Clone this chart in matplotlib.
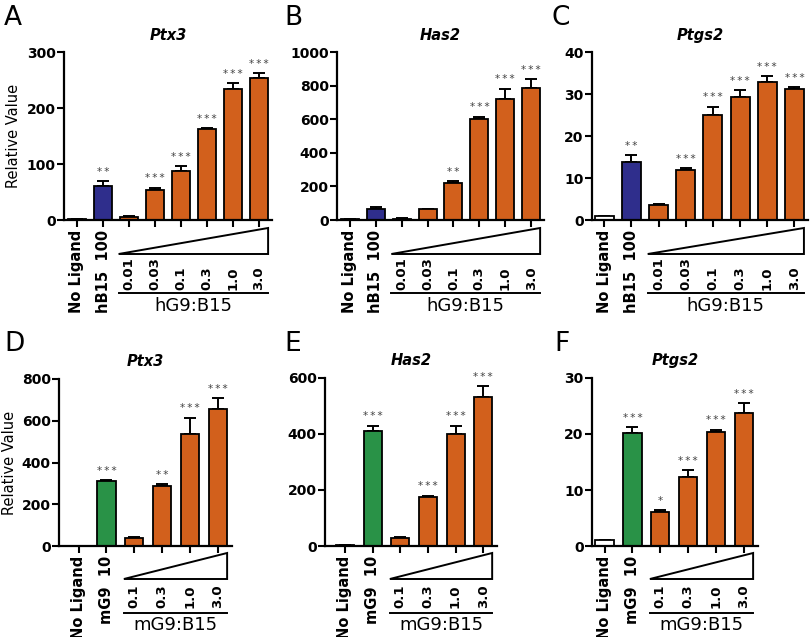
import numpy as np
import matplotlib
matplotlib.use("Agg")
import matplotlib.pyplot as plt
import matplotlib.transforms as mtrans

plt.rcParams['font.family'] = ['DejaVu Sans']

# data
top_doses = ['0.01', '0.03', '0.1', '0.3', '1.0', '3.0']
bottom_doses = ['0.1', '0.3', '1.0', '3.0']

a_vals = [1, 60, 6, 54, 88, 162, 234, 253]
a_err = [0, 9, 1, 4, 9, 2, 10, 10]
a_stars = ['', '**', '', '***', '***', '***', '***', '***']

b_vals = [3, 64, 8, 64, 220, 600, 718, 784]
b_err = [0, 12, 1, 4, 14, 16, 64, 54]
b_stars = ['', '', '', '', '**', '***', '***', '***']

c_vals = [1.0, 13.7, 3.5, 11.8, 25.0, 29.4, 32.9, 31.2]
c_err = [0, 1.8, 0.2, 0.5, 2.0, 1.6, 1.3, 0.4]
c_stars = ['', '**', '', '***', '***', '***', '***', '***']

d_vals = [2, 310, 40, 289, 535, 655]
d_err = [0, 6, 4, 8, 80, 53]
d_stars = ['', '***', '', '**', '***', '***']

e_vals = [3, 412, 30, 174, 400, 533]
e_err = [0, 18, 2, 6, 30, 37]
e_stars = ['', '***', '', '***', '***', '***']

f_vals = [1.0, 20.2, 6.1, 12.4, 20.3, 23.8]
f_err = [0, 1.0, 0.25, 1.2, 0.5, 1.7]
f_stars = ['', '***', '*', '***', '***', '***']

NAVY = '#2f2e8c'
GREEN = '#299247'
ORANGE = '#d2601c'

W, H = 812, 637
fig = plt.figure(figsize=(W / 100, H / 100), dpi=100)


def add_panel(letter, letter_xy, gene, vals, err, stars, ymax, yticks, ctrl, ctrl_color,
              doses, group, box, xlim, bw, offs, ylabel=False, lab_x=-0.2):
    left, top, right, bottom = box
    ax = fig.add_axes([left / W, 1 - bottom / H, (right - left) / W, (bottom - top) / H])
    n = len(vals)
    x = np.arange(n)
    colors = ['white', ctrl_color] + [ORANGE] * (n - 2)
    ax.bar(x, vals, width=bw, color=colors, edgecolor='black', linewidth=1.3, zorder=2)
    ax.errorbar(x, vals, yerr=[np.zeros(n), err], fmt='none', ecolor='black',
                elinewidth=1.4, capsize=4, capthick=1.4, zorder=1)
    for i in range(n):
        if stars[i]:
            ax.annotate('\u2009'.join(stars[i]), (x[i], vals[i] + err[i]), xytext=(0, 3),
                        textcoords='offset points', ha='center', va='bottom',
                        fontsize=7.5, color='#444444')
    ax.set_xlim(*xlim)
    ax.set_ylim(0, ymax)
    ax.set_yticks(yticks)
    ax.set_yticklabels([str(t) for t in yticks], fontweight='bold', fontsize=10)
    ax.set_xticks(x)
    ax.set_xticklabels(['No Ligand', ctrl] + [''] * (n - 2), rotation=90,
                       fontweight='bold', fontsize=10.5)
    for s in ['top', 'right']:
        ax.spines[s].set_visible(False)
    for s in ['left', 'bottom']:
        ax.spines[s].set_linewidth(1.6)
    ax.tick_params(width=1.5, length=5, pad=2)
    ax.tick_params(axis='y', pad=1)
    ax.set_title(gene, fontstyle='italic', fontweight='bold', fontsize=10.5, pad=9)
    if ylabel:
        ax.set_ylabel('Relative Value', fontsize=10.5)
        ax.yaxis.set_label_coords(lab_x, 0.5)

    # triangle, dose numbers and group line below the axis (offsets in pixels)
    tri_top, tri_bot, num_bot, line_y, lab_top = offs

    def tr(dy):
        return mtrans.blended_transform_factory(ax.transData, ax.transAxes) + \
            mtrans.ScaledTranslation(0, -dy / 100, fig.dpi_scale_trans)

    x0, x1 = 2 - bw / 2 - 0.05, n - 1 + bw / 2
    p0 = tr(tri_bot).transform((x0, 0))
    p1 = tr(tri_bot).transform((x1, 0))
    p2 = tr(tri_top).transform((x1, 0))
    tri = plt.Polygon([[p0[0] / W, p0[1] / H], [p1[0] / W, p1[1] / H], [p2[0] / W, p2[1] / H]],
                      closed=True, fill=False, edgecolor='black', lw=1.4,
                      transform=fig.transFigure, joinstyle='miter')
    fig.add_artist(tri)
    for i, d in enumerate(doses):
        ax.text(i + 2, 0, d, transform=tr(num_bot), rotation=90, ha='center', va='bottom',
                fontweight='bold', fontsize=9.5)
    ax.plot([x0, x1], [0, 0], transform=tr(line_y), color='black', lw=1.4, clip_on=False)
    ax.text((x0 + x1) / 2, 0, group, transform=tr(lab_top), ha='center', va='top',
            fontsize=13)

    fig.text(letter_xy[0] / W, 1 - letter_xy[1] / H, letter, fontsize=19, va='top', ha='left')
    return ax


top_offs = (8, 34, 70, 73, 77)
bot_offs = (7, 33, 62, 67, 70)

add_panel('A', (4, 5), 'Ptx3', a_vals, a_err, a_stars, 300, [0, 100, 200, 300], 'hB15  100',
          NAVY, top_doses, 'hG9:B15', (64, 52, 272, 220), (-0.5, 7.5), 0.7, top_offs,
          ylabel=True, lab_x=-0.205)
add_panel('B', (284, 5), 'Has2', b_vals, b_err, b_stars, 1000, [0, 200, 400, 600, 800, 1000],
          'hB15  100', NAVY, top_doses, 'hG9:B15', (337, 52, 544, 220), (-0.5, 7.5), 0.7,
          top_offs)
add_panel('C', (552, 5), 'Ptgs2', c_vals, c_err, c_stars, 40, [0, 10, 20, 30, 40], 'hB15  100',
          NAVY, top_doses, 'hG9:B15', (592, 52, 808, 220), (-0.45, 7.5), 0.7, top_offs)
add_panel('D', (4, 331), 'Ptx3', d_vals, d_err, d_stars, 800, [0, 200, 400, 600, 800], 'mG9  10',
          GREEN, bottom_doses, 'mG9:B15', (59, 379, 232, 546), (-0.7, 5.5), 0.65, bot_offs,
          ylabel=True, lab_x=-0.24)
add_panel('E', (284, 331), 'Has2', e_vals, e_err, e_stars, 600, [0, 200, 400, 600], 'mG9  10',
          GREEN, bottom_doses, 'mG9:B15', (325, 378, 497, 546), (-0.72, 5.5), 0.65, bot_offs)
add_panel('F', (554, 331), 'Ptgs2', f_vals, f_err, f_stars, 30, [0, 10, 20, 30], 'mG9  10',
          GREEN, bottom_doses, 'mG9:B15', (592, 378, 758, 546), (-0.45, 5.5), 0.65, bot_offs)

fig.savefig('out.png', dpi=100)
